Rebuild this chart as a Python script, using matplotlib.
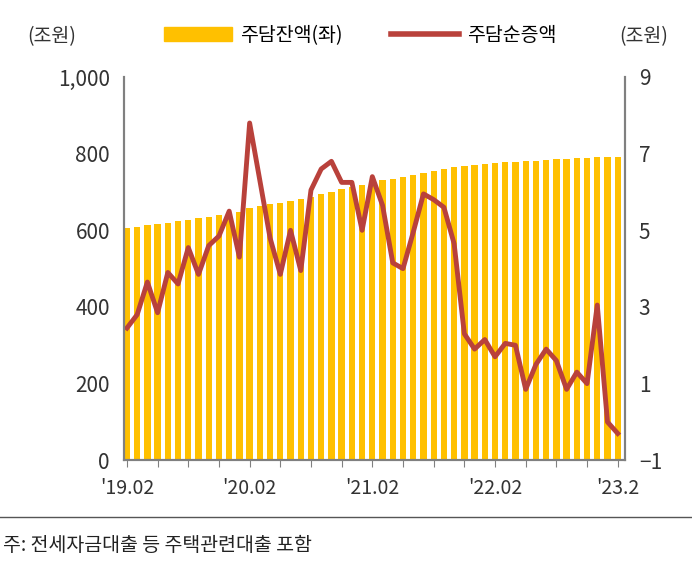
import numpy as np
import matplotlib.pyplot as plt
from matplotlib.lines import Line2D

plt.rcParams['font.family'] = ['Noto Sans CJK KR', 'Noto Sans CJK JP', 'Noto Sans CJK SC', 'DejaVu Sans']

months = ['19.02', '19.03', '19.04', '19.05', '19.06', '19.07', '19.08', '19.09', '19.10', '19.11', '19.12',
          '20.01', '20.02', '20.03', '20.04', '20.05', '20.06', '20.07', '20.08', '20.09', '20.10', '20.11', '20.12',
          '21.01', '21.02', '21.03', '21.04', '21.05', '21.06', '21.07', '21.08', '21.09', '21.10', '21.11', '21.12',
          '22.01', '22.02', '22.03', '22.04', '22.05', '22.06', '22.07', '22.08', '22.09', '22.10', '22.11', '22.12',
          '23.01', '23.02']
balance = [606, 609, 613, 616, 619, 623, 627, 631, 635, 640, 645,
           649, 657, 663, 668, 672, 677, 681, 687, 694, 701, 707, 713,
           718, 724, 730, 734, 738, 743, 749, 755, 761, 766, 769, 771,
           773, 775, 777, 779, 780, 782, 784, 786, 787, 788, 789, 792,
           792, 792]
net_increase = [2.45, 2.8, 3.65, 2.85, 3.9, 3.6, 4.55, 3.85, 4.6, 4.85, 5.5,
                4.3, 7.8, 6.3, 4.8, 3.85, 5.0, 3.95, 6.05, 6.6, 6.8, 6.25, 6.25,
                5.0, 6.4, 5.65, 4.15, 4.0, 4.95, 5.95, 5.8, 5.6, 4.65, 2.3, 1.9,
                2.15, 1.7, 2.05, 2.0, 0.85, 1.5, 1.9, 1.6, 0.85, 1.3, 1.0, 3.05,
                0.0, -0.3]
xlabels = ["'19.02", "'20.02", "'21.02", "'22.02", "'23.2"]

bar_color = '#FFC000'
line_color = '#B9413B'
gray = '#808080'

fig = plt.figure(figsize=(6.92, 5.62), dpi=100)
ax = fig.add_axes([0.179, 0.181, 0.724, 0.682])
x = np.arange(len(months))
ax.bar(x, balance, width=0.62, color=bar_color)
ax.set_ylim(0, 1000)
ax.set_xlim(-0.3, len(months) - 0.3)
ax.set_yticks([0, 200, 400, 600, 800, 1000])
ax.set_yticklabels(['0', '200', '400', '600', '800', '1,000'])
ax.set_xticks(np.arange(0, len(months), 3))
ax.set_xticklabels(['' for _ in np.arange(0, len(months), 3)])
for i, lab in zip(range(0, len(months), 12), xlabels):
    ax.text(i, -45, lab, ha='center', va='top', fontsize=14, color='#333333')
ax.tick_params(axis='x', length=5, color=gray)
ax.tick_params(axis='y', length=0, labelsize=15, labelcolor='#333333', pad=10)

ax2 = ax.twinx()
ax2.plot(x, net_increase, color=line_color, lw=3.5)
ax2.set_ylim(-1, 9)
ax2.set_yticks([-1, 1, 3, 5, 7, 9])
ax2.tick_params(axis='y', length=0, labelsize=15, labelcolor='#333333', pad=10)

for a in (ax, ax2):
    a.spines['top'].set_visible(False)
    for s in ('left', 'right', 'bottom'):
        a.spines[s].set_color(gray)
        a.spines[s].set_linewidth(1.5)

fig.text(0.04, 0.935, '(조원)', fontsize=14, color='#333333', va='center')
fig.text(0.895, 0.935, '(조원)', fontsize=14, color='#333333', va='center')
handles = [plt.Rectangle((0, 0), 1, 1, color=bar_color),
           Line2D([0], [0], color=line_color, lw=4)]
fig.legend(handles, ['주담잔액(좌)', '주담순증액'], loc='center', bbox_to_anchor=(0.52, 0.937),
           ncol=2, frameon=False, fontsize=14, handlelength=3.5, columnspacing=2.5,
           handletextpad=0.4)

fig.add_artist(Line2D([0, 1], [0.08, 0.08], color='#555555', lw=1))
fig.text(0.005, 0.03, '주: 전세자금대출 등 주택관련대출 포함', fontsize=14, color='#222222', va='center')

fig.savefig('out.png')
